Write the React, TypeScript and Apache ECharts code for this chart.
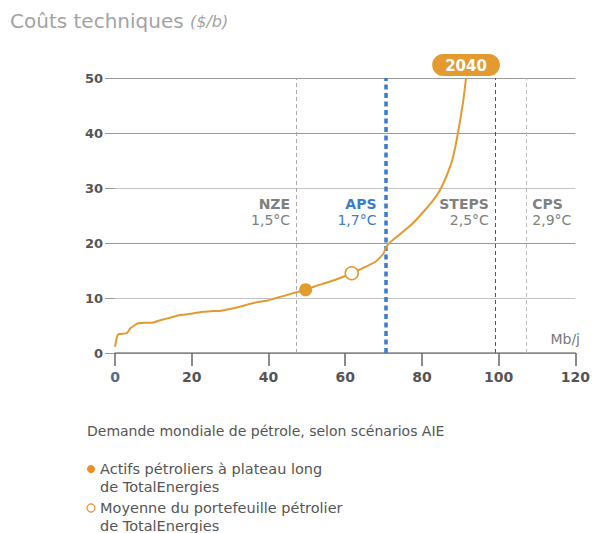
import React, { useEffect, useRef } from "react";
import * as echarts from "echarts";

const demand = [0, 0.5, 1, 3.1, 3.9, 5, 6, 8, 9.6, 12, 14.8, 17, 20.2, 23, 25, 27.7, 30, 33, 35, 37.6, 40, 42, 44.6, 47, 49.7, 52, 55.7, 58.5, 61.7, 64.5, 67.9, 69.9, 70.5, 71.2, 72.5, 73.8, 77.2, 79, 80.8, 82.4, 84, 85, 86.3, 87.2, 88.1, 89.4, 90.7, 91.5];
const cost = [1.1, 2.9, 3.45, 3.6, 4.4, 5.0, 5.4, 5.5, 5.5, 6.0, 6.5, 6.9, 7.2, 7.5, 7.6, 7.7, 8.0, 8.5, 8.9, 9.3, 9.6, 10.0, 10.5, 11.0, 11.5, 12.1, 12.9, 13.6, 14.5, 15.4, 16.6, 18.0, 18.9, 19.8, 20.6, 21.3, 23.3, 24.6, 26.0, 27.3, 28.8, 30.0, 32.0, 33.6, 35.6, 40.0, 45.5, 50];

const scenarioNames = ["NZE", "APS", "STEPS", "CPS"];
const scenarioTemps = ["1,5°C", "1,7°C", "2,5°C", "2,9°C"];
const scenarioDemand = [47.2, 70.5, 99, 107.2];
const scenarioLabelY = 25.6;

const plateauPoint = [49.7, 11.5];
const portfolioPoint = [61.7, 14.5];
const topLabel = "2040";

const xTicks = [0, 20, 40, 60, 80, 100, 120];
const yTicks = [0, 10, 20, 30, 40, 50];

const ORANGE = "#E39A2F";
const LEGEND_ORANGE = "#F28C28";
const BLUE = "#3D7CC9";
const FONT = "DejaVu Sans";

export default function App() {
  const ref = useRef<HTMLDivElement>(null);
  useEffect(() => {
    document.body.style.margin = "0";
    if (!ref.current) return;
    const chart = echarts.init(ref.current, null, { renderer: "svg" });
    const lineData = demand.map((d, i) => [d, cost[i]]);
    const lastPoint = [demand[demand.length - 1], cost[cost.length - 1]];
    const markStyles = [
      { color: "#aaa", width: 1, type: [4, 3] },
      { color: BLUE, width: 3.5, type: [5, 3.5] },
      { color: "#555", width: 1, type: [4, 3] },
      { color: "#bbb", width: 1, type: [4, 3] },
    ];
    const labelData = scenarioNames.map((n, i) => {
      const isBlue = n === "APS";
      const right = n === "CPS";
      const c = isBlue ? BLUE : "#808080";
      return {
        value: [scenarioDemand[i], scenarioLabelY],
        label: {
          show: true,
          position: right ? "right" : "left",
          distance: isBlue ? 9 : 6,
          formatter: `{b|${n}}\n{t|${scenarioTemps[i]}}`,
          rich: {
            b: { fontWeight: "bold", fontSize: 14, color: c, fontFamily: FONT, align: right ? "left" : "right", lineHeight: 16 },
            t: { fontSize: 14, color: c, fontFamily: FONT, align: right ? "left" : "right", lineHeight: 16 },
          },
        },
      };
    });
    chart.setOption({
      animation: false,
      textStyle: { fontFamily: FONT },
      grid: { left: 115, right: 15, top: 78, bottom: 180 },
      xAxis: {
        type: "value",
        min: 0,
        max: 120,
        interval: 20,
        axisLine: { show: true, lineStyle: { color: "#888", width: 1.5 } },
        axisTick: { show: true, length: 13, lineStyle: { color: "#666", width: 1.5 } },
        axisLabel: {
          margin: 17,
          fontSize: 14,
          fontWeight: "bold",
          color: "#555",
          fontFamily: FONT,
          formatter: (v: number) => (xTicks.includes(v) ? (v === 0 ? `{z|${v}}` : `${v}`) : ""),
          rich: { z: { fontSize: 14, fontWeight: "bold", color: "#4F6E8E", fontFamily: FONT } },
        },
        splitLine: { show: false },
      },
      yAxis: {
        type: "value",
        min: 0,
        max: 50,
        interval: 10,
        axisLine: { show: false },
        axisTick: { show: true, length: 10, lineStyle: { color: "#999" } },
        axisLabel: {
          margin: 12,
          fontSize: 13,
          fontWeight: "bold",
          color: "#555",
          fontFamily: FONT,
          formatter: (v: number) => (yTicks.includes(v) ? `${v}` : ""),
        },
        splitLine: { show: true, lineStyle: { color: ["#888", "#c4c4c4", "#999", "#c4c4c4", "#999", "#999"], width: 1 } },
      },
      series: [
        {
          type: "line",
          data: lineData,
          showSymbol: false,
          symbol: "none",
          smooth: 0.15,
          lineStyle: { color: ORANGE, width: 2 },
          z: 5,
          markLine: {
            silent: true,
            symbol: "none",
            label: { show: false },
            data: scenarioDemand.map((d, i) => ({ xAxis: d, lineStyle: markStyles[i] })),
            z: 4,
          },
        },
        {
          type: "scatter",
          data: [plateauPoint],
          symbol: "circle",
          symbolSize: 13,
          itemStyle: { color: ORANGE, opacity: 1 },
          z: 6,
        },
        {
          type: "scatter",
          data: [portfolioPoint],
          symbol: "circle",
          symbolSize: 13,
          itemStyle: { color: "#fff", borderColor: ORANGE, borderWidth: 1.5, opacity: 1 },
          z: 6,
        },
        {
          type: "scatter",
          data: labelData,
          symbolSize: 0,
          itemStyle: { opacity: 1 },
          silent: true,
          z: 7,
        },
        {
          type: "scatter",
          data: [lastPoint],
          symbolSize: 0,
          itemStyle: { opacity: 1 },
          silent: true,
          z: 8,
          label: {
            show: true,
            position: "top",
            distance: 2,
            formatter: topLabel,
            color: "#fff",
            fontWeight: "bold",
            fontSize: 15,
            fontFamily: FONT,
            backgroundColor: ORANGE,
            borderRadius: 12,
            padding: [4, 13, 3, 13],
          },
        },
      ],
      graphic: [
        {
          type: "text",
          left: 10,
          top: 11,
          style: {
            text: "{a|Coûts techniques }{b|($/b)}",
            rich: {
              a: { fontSize: 20, fill: "#a3a3a3", fontFamily: FONT },
              b: { fontSize: 16, fill: "#a3a3a3", fontStyle: "italic", fontFamily: FONT },
            },
          },
        },
        {
          type: "text",
          right: 13,
          top: 332,
          style: { text: "Mb/j", fontSize: 14, fill: "#777", fontFamily: FONT },
        },
        {
          type: "text",
          left: 87,
          top: 424,
          style: { text: "Demande mondiale de pétrole, selon scénarios AIE", fontSize: 14, fill: "#555", fontFamily: FONT },
        },
        { type: "circle", shape: { cx: 91, cy: 469, r: 4 }, style: { fill: LEGEND_ORANGE } },
        {
          type: "text",
          left: 100,
          top: 460,
          style: { text: "Actifs pétroliers à plateau long\nde TotalEnergies", fontSize: 14.5, lineHeight: 18, fill: "#555", fontFamily: FONT },
        },
        { type: "circle", shape: { cx: 91, cy: 508, r: 4 }, style: { fill: "#fff", stroke: LEGEND_ORANGE, lineWidth: 1.2 } },
        {
          type: "text",
          left: 100,
          top: 499,
          style: { text: "Moyenne du portefeuille pétrolier\nde TotalEnergies", fontSize: 14.5, lineHeight: 18, fill: "#555", fontFamily: FONT },
        },
      ],
    });
    return () => chart.dispose();
  }, []);
  return <div ref={ref} style={{ width: 593, height: 533 }} />;
}
